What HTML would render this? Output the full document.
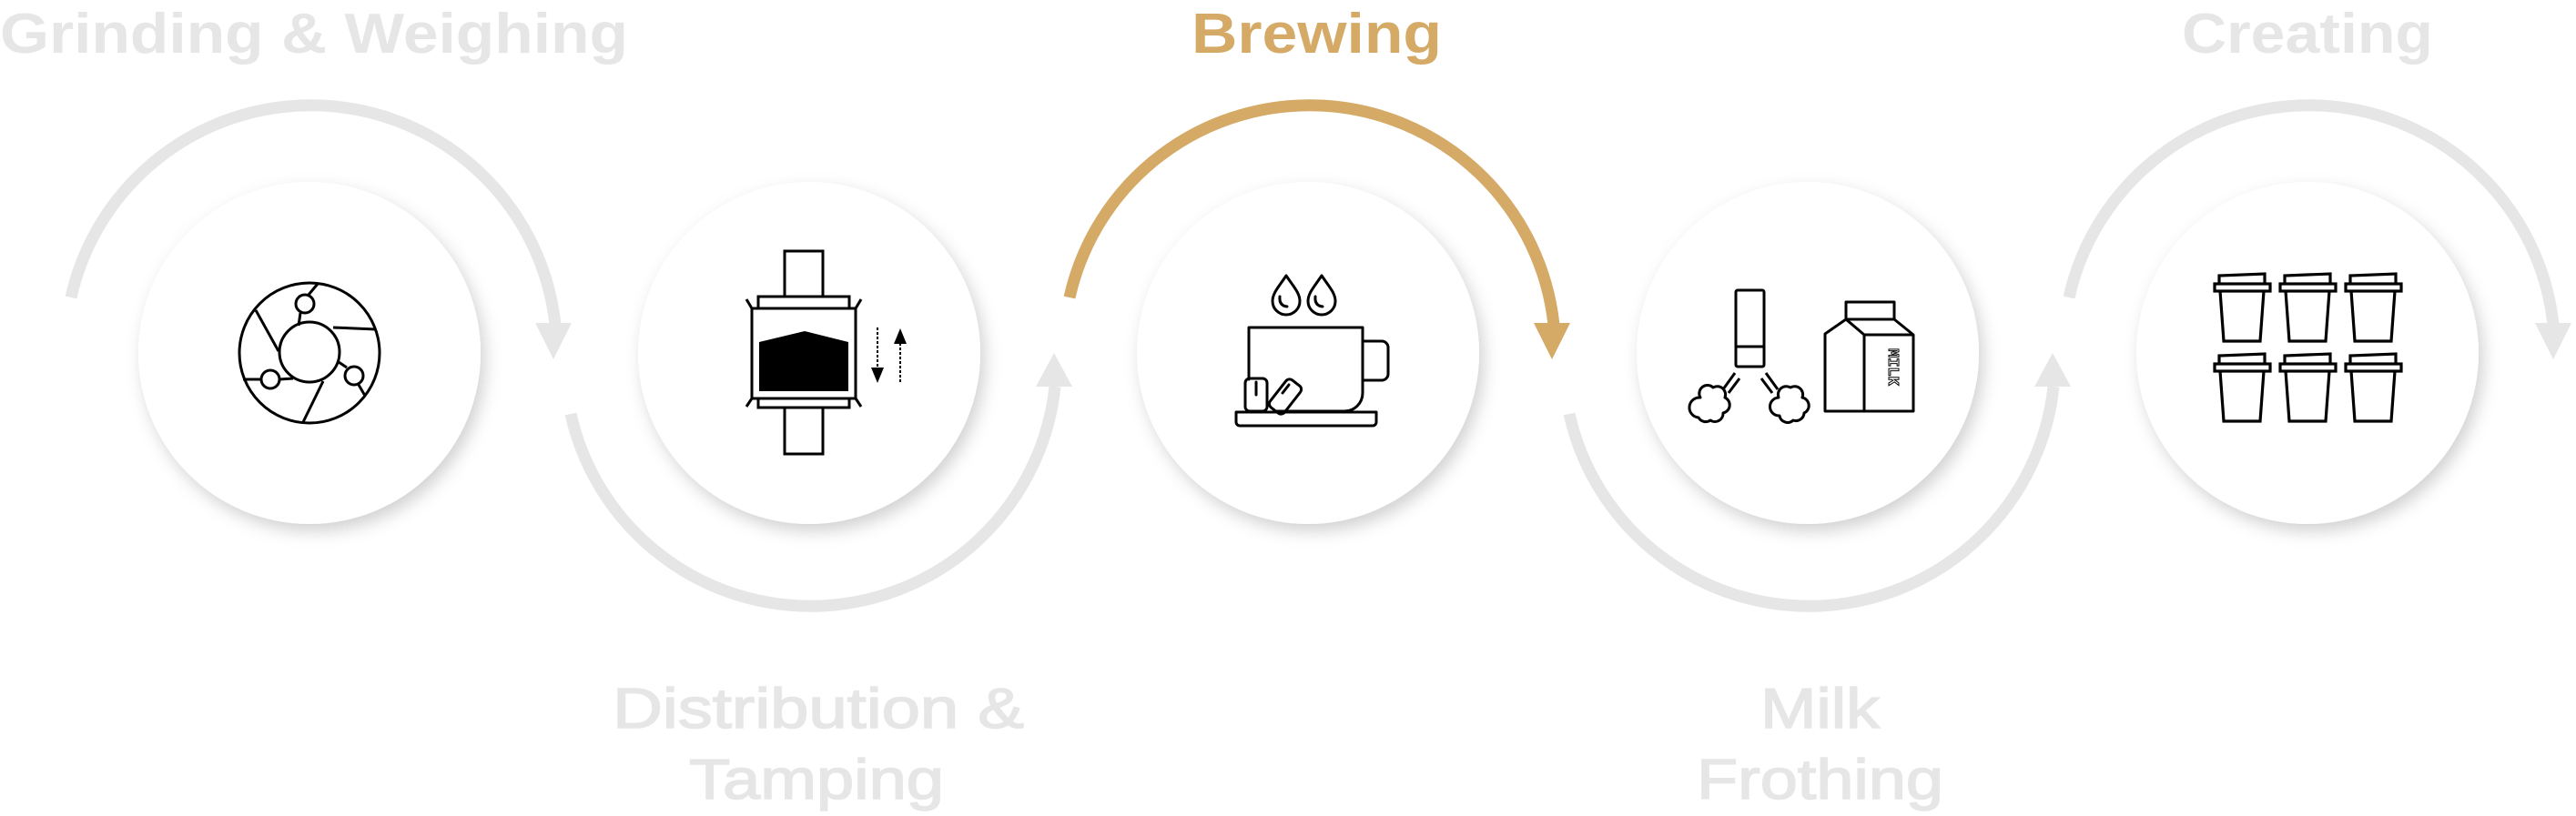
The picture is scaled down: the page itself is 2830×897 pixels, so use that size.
<!DOCTYPE html>
<html><head><meta charset="utf-8"><style>
html,body{margin:0;padding:0;background:#fff;}
svg{display:block;}
text{font-family:"Liberation Sans",sans-serif;font-weight:bold;}
</style></head><body>
<svg width="2830" height="897" viewBox="0 0 2830 897" xmlns="http://www.w3.org/2000/svg">
<defs>
<filter id="sh" x="-30%" y="-30%" width="160%" height="160%">
<feDropShadow dx="5" dy="8" stdDeviation="9" flood-color="#000" flood-opacity="0.18"/>
</filter>
</defs>

<g fill="none" stroke-width="13">
<path d="M78 327 A270 270 0 0 1 610 357" stroke="#e6e6e6"/>
<path d="M627 455 A270 270 0 0 0 1159 425" stroke="#e6e6e6"/>
<path d="M1175 327 A270 270 0 0 1 1707 357" stroke="#d4aa66"/>
<path d="M1724 455 A270 270 0 0 0 2256 425" stroke="#e6e6e6"/>
<path d="M2273 327 A270 270 0 0 1 2805 357" stroke="#e6e6e6"/>
</g>
<polygon points="588,355 628,355 608,395" fill="#e6e6e6"/>
<polygon points="1138,425 1178,425 1158,388" fill="#e6e6e6"/>
<polygon points="1685,355 1725,355 1705,395" fill="#d4aa66"/>
<polygon points="2235,425 2275,425 2255,388" fill="#e6e6e6"/>
<polygon points="2785,355 2825,355 2805,395" fill="#e6e6e6"/>

<g fill="#fff" filter="url(#sh)">
<circle cx="340" cy="388" r="188"/>
<circle cx="889" cy="388" r="188"/>
<circle cx="1437" cy="388" r="188"/>
<circle cx="1986" cy="388" r="188"/>
<circle cx="2535" cy="388" r="188"/>
</g>

<g fill="none" stroke="#000" stroke-width="3">
<circle cx="340" cy="388" r="77"/>
<circle cx="340" cy="387" r="33"/>
<circle cx="335" cy="334" r="10" fill="#fff"/>
<circle cx="297" cy="417" r="10" fill="#fff"/>
<circle cx="389" cy="413" r="10" fill="#fff"/>
<line x1="339" y1="324" x2="349" y2="312"/>
<line x1="330" y1="344" x2="328" y2="358"/>
<line x1="306" y1="386" x2="281" y2="341"/>
<line x1="366" y1="360" x2="413" y2="362"/>
<line x1="287" y1="417" x2="267" y2="417"/>
<line x1="307" y1="417" x2="322" y2="416"/>
<line x1="372" y1="398" x2="381" y2="404"/>
<line x1="394" y1="423" x2="401" y2="435"/>
<line x1="355" y1="419" x2="333" y2="464"/>
</g>

<g fill="none" stroke="#000" stroke-width="3">
<rect x="862" y="276" width="42" height="50"/>
<rect x="833" y="326" width="100" height="13"/>
<rect x="826" y="339" width="114" height="99"/>
<rect x="833" y="438" width="100" height="10"/>
<rect x="862" y="448" width="42" height="51"/>
<line x1="826" y1="339" x2="820" y2="329"/>
<line x1="940" y1="339" x2="946" y2="329"/>
<line x1="826" y1="438" x2="820" y2="447"/>
<line x1="940" y1="438" x2="946" y2="447"/>
<line x1="964" y1="360" x2="964" y2="410" stroke-width="2" stroke-dasharray="3 2"/>
<line x1="989" y1="372" x2="989" y2="422" stroke-width="2" stroke-dasharray="3 2"/>
</g>
<polygon points="834,376 884,364 932,376 932,430 834,430" fill="#000"/>
<polygon points="957,404 971,404 964,421" fill="#000"/>
<polygon points="982,378 996,378 989,361" fill="#000"/>

<g fill="none" stroke="#000" stroke-width="3" stroke-linejoin="round" stroke-linecap="round">
<path d="M1413 303 C1405 315 1398 322 1398 331 A15 15 0 0 0 1428 331 C1428 322 1421 315 1413 303 Z"/>
<path d="M1452 303 C1444 315 1437 322 1437 331 A15 15 0 0 0 1467 331 C1467 322 1460 315 1452 303 Z"/>
<path d="M1406 326 Q1405 336 1414 337"/>
<path d="M1445 326 Q1444 336 1453 337"/>
<path d="M1372 417 V360 H1497 V432 A20 20 0 0 1 1477 452 H1400"/>
<path d="M1497 375 H1518 A7 7 0 0 1 1525 382 V411 A7 7 0 0 1 1518 418 H1497"/>
<path d="M1358 453 H1512 V464 A4 4 0 0 1 1508 468 H1362 A4 4 0 0 1 1358 464 Z"/>
<rect x="1368" y="416" width="24" height="36" rx="5"/>
<line x1="1380" y1="420" x2="1380" y2="434"/>
<rect x="1402" y="417" width="20" height="38" rx="5" transform="rotate(38 1412 436)"/>
<line x1="1409" y1="432" x2="1416" y2="423"/>
</g>

<g fill="none" stroke="#000" stroke-width="3" stroke-linejoin="round">
<rect x="1907" y="319" width="31" height="84" rx="2"/>
<line x1="1907" y1="381" x2="1938" y2="381"/>
<line x1="1906" y1="410" x2="1893" y2="428"/>
<line x1="1911" y1="416" x2="1899" y2="432"/>
<line x1="1940" y1="410" x2="1953" y2="428"/>
<line x1="1935" y1="416" x2="1947" y2="432"/>
<path d="M1868 437 A9 9 0 0 1 1882 426 A9 9 0 0 1 1895 437 A9 9 0 0 1 1893 454 A9 9 0 0 1 1879 462 A9 9 0 0 1 1866 459 A9 9 0 0 1 1868 437 Z"/>
<path d="M1954 437 A9 9 0 0 1 1967 426 A9 9 0 0 1 1980 437 A9 9 0 0 1 1982 454 A9 9 0 0 1 1970 462 A9 9 0 0 1 1955 457 A9 9 0 0 1 1954 437 Z"/>
<rect x="2028" y="332" width="53" height="19"/>
<path d="M2005 367 L2028 351 H2081 L2102 368 V452 H2005 Z"/>
<path d="M2028 351 L2048 368 V452"/>
<line x1="2048" y1="368" x2="2102" y2="368"/>
</g>
<text x="2075" y="383" font-size="17" fill="#fff" stroke="#000" stroke-width="1" transform="rotate(90 2075 383)" style="font-family:'Liberation Mono',monospace">MILK</text>

<g fill="none" stroke="#000" stroke-width="3.2">
<g id="cup">
<path d="M2438 312 V303 L2488 301 V312"/>
<rect x="2433" y="312" width="61" height="8"/>
<path d="M2439 320 L2443 375 H2483 L2487 320"/>
</g>
<use href="#cup" x="72"/>
<use href="#cup" x="144"/>
<use href="#cup" y="88"/>
<use href="#cup" x="72" y="88"/>
<use href="#cup" x="144" y="88"/>
</g>

<text x="0" y="58" font-size="62" fill="#e6e6e6" textLength="690" lengthAdjust="spacingAndGlyphs">Grinding &amp; Weighing</text>
<text x="1309" y="58" font-size="62" fill="#d4aa66" textLength="275" lengthAdjust="spacingAndGlyphs">Brewing</text>
<text x="2397" y="58" font-size="62" fill="#e6e6e6" textLength="276" lengthAdjust="spacingAndGlyphs">Creating</text>
<g font-size="62" fill="#e6e6e6" stroke="#e6e6e6" stroke-width="1.5">
<text x="673" y="800" textLength="452" lengthAdjust="spacingAndGlyphs" style="font-weight:normal">Distribution &amp;</text>
<text x="757" y="878" textLength="280" lengthAdjust="spacingAndGlyphs" style="font-weight:normal">Tamping</text>
<text x="1934" y="800" textLength="131" lengthAdjust="spacingAndGlyphs" style="font-weight:normal">Milk</text>
<text x="1864" y="878" textLength="271" lengthAdjust="spacingAndGlyphs" style="font-weight:normal">Frothing</text>
</g>
</svg>
</body></html>
